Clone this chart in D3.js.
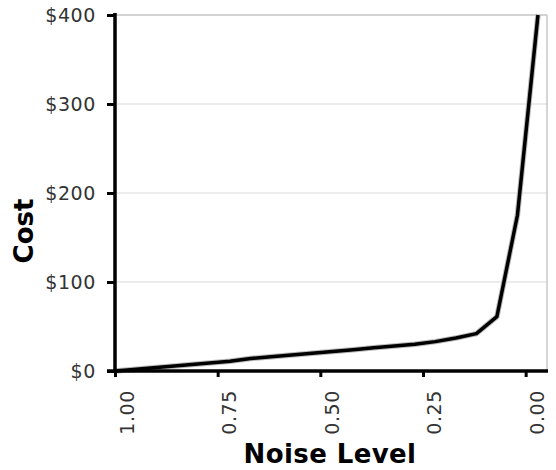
<!DOCTYPE html>
<html>
<head>
<meta charset="utf-8">
<script src="https://cdn.jsdelivr.net/npm/d3@7"></script>
<style>
  body { margin: 0; background: #fff; }
  text { font-family: "DejaVu Sans", Verdana, sans-serif; }
</style>
</head>
<body>
<svg width="556" height="470"></svg>
<script>
// noise level (x) and cost (y)
const noise = [1.00, 0.97, 0.92, 0.87, 0.82, 0.77, 0.72, 0.67, 0.62, 0.57, 0.52,
               0.47, 0.42, 0.37, 0.32, 0.27, 0.22, 0.17, 0.12, 0.07, 0.02, -0.03];
const cost = [0, 1, 3, 5, 7, 9, 11, 14, 16, 18, 20,
              22, 24, 26, 28, 30, 33, 37, 42, 61, 175, 400];
const xTicks = [1.00, 0.75, 0.50, 0.25, 0.00];
const yTicks = [0, 100, 200, 300, 400];

var svg = d3.select("svg");

var x = d3.scaleLinear().domain([1.00, -0.052]).range([115, 547]);
var y = d3.scaleLinear().domain([0, 400]).range([371, 15]);

// gridlines
svg.append("g")
    .selectAll("line")
    .data(yTicks.filter(d => d > 0))
    .enter().append("line")
    .attr("x1", 115).attr("x2", 547)
    .attr("y1", d => y(d)).attr("y2", d => y(d))
    .attr("stroke", d => d == 400 ? "#c4c4c4" : "#d9d9d9")
    .attr("stroke-width", d => d == 400 ? 1.5 : 1);

// right border
svg.append("line")
    .attr("x1", 547).attr("x2", 547)
    .attr("y1", y(400)).attr("y2", y(0))
    .attr("stroke", "#c8c8c8").attr("stroke-width", 1.5);

// the line
var line = d3.line()
    .x((d, i) => x(noise[i]))
    .y(d => y(d));

svg.append("path")
    .datum(cost)
    .attr("fill", "none")
    .attr("stroke", "#bbb")
    .attr("stroke-width", 5.5)
    .attr("stroke-linejoin", "round")
    .attr("d", line);

svg.append("path")
    .datum(cost)
    .attr("fill", "none")
    .attr("stroke", "#000")
    .attr("stroke-width", 3.5)
    .attr("stroke-linejoin", "round")
    .attr("d", line);

// y axis
var yAxis = svg.append("g")
    .attr("transform", "translate(115,0)")
    .call(d3.axisLeft(y).tickValues(yTicks).tickSize(8).tickSizeOuter(0).tickPadding(11)
        .tickFormat(d => "$" + d));
yAxis.select(".domain").attr("stroke-width", 3.5).attr("d", "M0,13V373");
yAxis.selectAll(".tick line").attr("stroke-width", 3);
yAxis.selectAll(".tick text")
    .attr("font-size", 19)
    .attr("letter-spacing", 0.6)
    .attr("fill", "#333");

// x axis
var xAxis = svg.append("g")
    .attr("transform", "translate(0,371)")
    .call(d3.axisBottom(x).tickValues(xTicks).tickSize(6).tickSizeOuter(0)
        .tickFormat(d3.format(".2f")));
xAxis.select(".domain").attr("stroke-width", 3.5).attr("d", "M107,0H548");
xAxis.selectAll(".tick line").attr("stroke-width", 3);
xAxis.selectAll(".tick text")
    .attr("font-size", 19)
    .attr("letter-spacing", 0.6)
    .attr("fill", "#333")
    .attr("text-anchor", "end")
    .attr("dy", null)
    .attr("y", null)
    .attr("transform", "translate(18,19) rotate(-90)");

// axis titles
svg.append("text")
    .attr("x", 330).attr("y", 463)
    .attr("text-anchor", "middle")
    .attr("font-size", 26).attr("font-weight", "bold")
    .attr("letter-spacing", 0.4)
    .text("Noise Level");

svg.append("text")
    .attr("transform", "translate(33,231) rotate(-90)")
    .attr("text-anchor", "middle")
    .attr("font-size", 26).attr("font-weight", "bold")
    .text("Cost");
</script>
</body>
</html>
